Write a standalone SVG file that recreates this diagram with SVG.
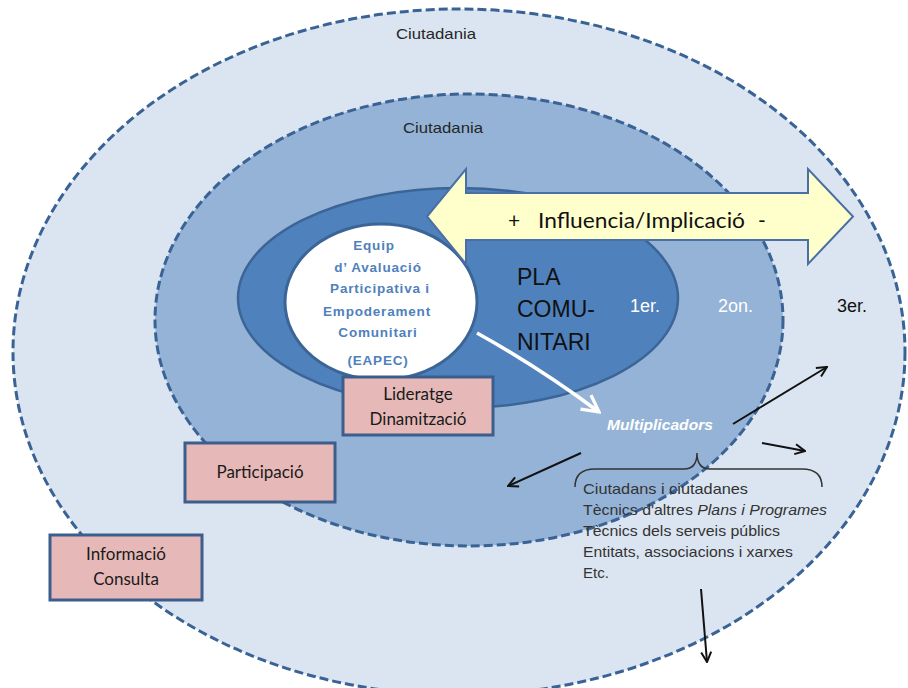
<svg xmlns="http://www.w3.org/2000/svg" width="908" height="688" viewBox="0 0 908 688">
<defs>
<style>
.dash{stroke:#3A6395;stroke-width:3;stroke-dasharray:9 4;}
.box{fill:#E6B9B8;stroke:#3B5E8C;stroke-width:3;}
.boxt{font-family:Lato,"Liberation Sans",sans-serif;font-size:17px;fill:#1a1a1a;text-anchor:middle;}
.eq{font-family:"Liberation Sans",Arial,sans-serif;font-weight:bold;font-size:13.5px;fill:#4F81BD;text-anchor:middle;letter-spacing:0.8px;}
.ciu{font-family:"Liberation Sans",Arial,sans-serif;font-size:15px;fill:#262626;text-anchor:middle;}
.lvl{font-family:"Liberation Sans",Arial,sans-serif;font-size:18px;}
.pla{font-family:"Liberation Sans",Arial,sans-serif;font-size:23px;fill:#111;}
.lst{font-family:"Liberation Sans",Arial,sans-serif;font-size:15px;fill:#333;}
.blk{stroke:#111;stroke-width:2;fill:none;}
</style>
<marker id="ah" viewBox="0 0 12 12" refX="11" refY="6" markerWidth="12" markerHeight="12" markerUnits="userSpaceOnUse" orient="auto">
<path d="M1,1 L11,6 L1,11" fill="none" stroke="#111" stroke-width="2"/>
</marker>
<marker id="wh" viewBox="0 0 20 20" refX="18" refY="10" markerWidth="22" markerHeight="22" markerUnits="userSpaceOnUse" orient="auto">
<path d="M3,2 L18,10 L3,18" fill="none" stroke="#fff" stroke-width="3"/>
</marker>
</defs>
<rect width="908" height="688" fill="#fff"/>
<g id="outer">
<ellipse cx="459" cy="352" rx="446" ry="343" fill="#DBE5F1" class="dash"/>
<text class="ciu" x="436" y="39" textLength="80" lengthAdjust="spacingAndGlyphs">Ciutadania</text>
</g>
<g id="second">
<ellipse cx="469" cy="320" rx="314" ry="226" fill="#95B3D7" class="dash"/>
<text class="ciu" x="443" y="133" textLength="80" lengthAdjust="spacingAndGlyphs">Ciutadania</text>
</g>
<g id="inner">
<ellipse cx="458" cy="298" rx="220" ry="110" fill="#4F81BD" stroke="#3B6596" stroke-width="2.5"/>
<text class="pla" x="517" y="285">PLA</text>
<text class="pla" x="517" y="317">COMU-</text>
<text class="pla" x="517" y="350">NITARI</text>
</g>
<g id="levels">
<text class="lvl" x="630" y="312" fill="#fff">1er.</text>
<text class="lvl" x="718" y="312" fill="#fff">2on.</text>
<text class="lvl" x="837" y="312" fill="#111">3er.</text>
</g>
<g id="eapec">
<ellipse cx="381" cy="302" rx="96" ry="78" fill="#fff" stroke="#3B6596" stroke-width="3"/>
<text class="eq" x="374" y="250">Equip</text>
<text class="eq" x="378" y="272">d’ Avaluació</text>
<text class="eq" x="380" y="293">Participativa i</text>
<text class="eq" x="377" y="316">Empoderament</text>
<text class="eq" x="378" y="337">Comunitari</text>
<text class="eq" x="378" y="365">(EAPEC)</text>
</g>
<g id="influencia">
<path d="M427,216.5 L466,169 L466,193 L808,193 L808,169 L853,216.5 L808,264 L808,240 L466,240 L466,264 Z" fill="#FFFFCC" stroke="#4A6FA5" stroke-width="2"/>
<text x="508" y="228" font-family="Lato,'Liberation Sans',sans-serif" font-size="21" fill="#111">+</text>
<text x="538" y="228" font-family="Lato,'Liberation Sans',sans-serif" font-size="21" fill="#111" textLength="207" lengthAdjust="spacingAndGlyphs">Influencia/Implicació</text>
<text x="758" y="228" font-family="Lato,'Liberation Sans',sans-serif" font-size="21" fill="#111">-</text>
</g>
<g id="lideratge">
<rect class="box" x="343" y="377" width="150" height="58"/>
<text class="boxt" x="418" y="400">Lideratge</text>
<text class="boxt" x="418" y="425">Dinamització</text>
</g>
<g id="participacio">
<rect class="box" x="185" y="443" width="150" height="59"/>
<text class="boxt" x="260" y="478">Participació</text>
</g>
<g id="informacio">
<rect class="box" x="50" y="535" width="152" height="65"/>
<text class="boxt" x="126" y="560">Informació</text>
<text class="boxt" x="126" y="585">Consulta</text>
</g>
<g id="multiplicadors">
<text x="607" y="430" font-family="'Liberation Sans',Arial,sans-serif" font-size="14.5" font-weight="bold" font-style="italic" fill="#fff" textLength="106" lengthAdjust="spacingAndGlyphs">Multiplicadors</text>
</g>
<g id="list">
<text class="lst" x="583" y="494" textLength="165" lengthAdjust="spacingAndGlyphs">Ciutadans i ciutadanes</text>
<text class="lst" x="583" y="515" textLength="244" lengthAdjust="spacingAndGlyphs">Tècnics d'altres <tspan font-style="italic">Plans i Programes</tspan></text>
<text class="lst" x="583" y="536" textLength="197" lengthAdjust="spacingAndGlyphs">Tècnics dels serveis públics</text>
<text class="lst" x="583" y="557" textLength="210" lengthAdjust="spacingAndGlyphs">Entitats, associacions i xarxes</text>
<text class="lst" x="583" y="578">Etc.</text>
</g>
<g id="connectors">
<path d="M477,333 Q540,368 599,412" fill="none" stroke="#fff" stroke-width="3.5" marker-end="url(#wh)"/>
<path class="blk" d="M733,424 L827,367" marker-end="url(#ah)"/>
<path class="blk" d="M762,443 L805,451" marker-end="url(#ah)"/>
<path class="blk" d="M581,453 L508,486" marker-end="url(#ah)"/>
<path class="blk" d="M701,589 L707,662" marker-end="url(#ah)"/>
<path d="M575,487 Q575,469 595,469 L684,469 Q697,469 697,453 Q697,469 710,469 L802,469 Q822,469 822,487" fill="none" stroke="#333" stroke-width="1.5"/>
</g>
</svg>
